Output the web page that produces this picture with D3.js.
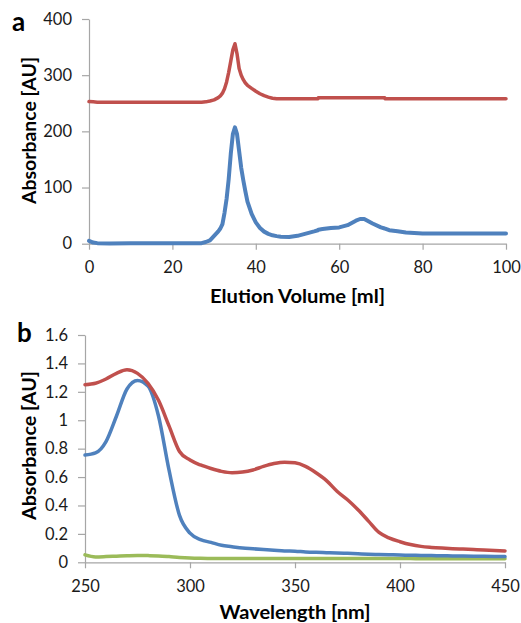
<!DOCTYPE html>
<html><head><meta charset="utf-8">
<script src="https://cdn.jsdelivr.net/npm/d3@7"></script>
<style>
html,body{margin:0;padding:0;background:#fff;}
svg{display:block;font-family:Lato,"Open Sans",sans-serif;}
</style></head>
<body>
<svg id="chart" width="521" height="623"></svg>
<script>
// ---------- Panel a data: elution profile ----------
const elutionVolume = [0,1,2,5,10,20,27,28,29,30,31,31.5,32,32.5,33,33.5,34,34.5,35,35.5,36,36.5,37,37.5,38,39,40,41,42,43,44,45,46,48,50,52,54,54.9,55,56,58,60,62,64,65,66,68,70,70.9,71,72,74,76,78,80,90,100];
const elutionRed  = [253,252.5,252,252,252,252,252,252.5,254,256,260,263,268,276,288,305,325,345,356,338,312,300,292,286,282,276.5,271.5,267,263.5,261,259,258,258,258,258,258,258,258,260,260,260,260,260,260,260,260,260,260,260,258,258,258,258,258,258,258,258];
const elutionBlue = [5,2,1,0.5,1,1,1,3,6,14,22,27,35,55,80,115,160,195,207,195,165,135,113,93,75,53,38,28,21.5,17.5,15,13.5,12.5,12,14,18,22,24,25,26,28,29,33,41,44,44,36,29,27,27,24,22,20,19,18,18,18];
const yTicksA = [0,100,200,300,400];
const xTicksA = [0,20,40,60,80,100];

// ---------- Panel b data: absorbance spectra ----------
const wavelength = [250,255,260,265,270,275,280,285,290,295,300,305,310,315,320,325,330,335,340,345,350,355,360,365,370,375,380,385,390,395,400,405,410,415,420,425,430,435,440,445,450];
const spectrumRed   = [1.25,1.26,1.29,1.33,1.355,1.33,1.26,1.14,0.96,0.78,0.72,0.685,0.66,0.64,0.63,0.635,0.65,0.675,0.695,0.705,0.70,0.675,0.63,0.575,0.50,0.44,0.37,0.29,0.21,0.17,0.145,0.125,0.112,0.105,0.10,0.096,0.093,0.09,0.087,0.083,0.08];
const spectrumBlue  = [0.755,0.77,0.85,1.03,1.22,1.28,1.24,1.03,0.65,0.33,0.205,0.16,0.14,0.12,0.11,0.10,0.095,0.09,0.085,0.08,0.078,0.073,0.07,0.068,0.066,0.063,0.06,0.057,0.055,0.053,0.051,0.05,0.048,0.047,0.046,0.045,0.044,0.043,0.042,0.041,0.04];
const spectrumGreen = [0.052,0.038,0.04,0.043,0.046,0.048,0.047,0.045,0.04,0.034,0.03,0.028,0.027,0.026,0.026,0.026,0.026,0.026,0.026,0.026,0.026,0.026,0.026,0.026,0.026,0.026,0.026,0.026,0.026,0.026,0.026,0.026,0.025,0.025,0.025,0.025,0.025,0.025,0.025,0.025,0.025];
const yTicksB = [0,0.2,0.4,0.6,0.8,1,1.2,1.4,1.6];
const xTicksB = [250,300,350,400,450];

const RED = "#C0504D", BLUE = "#4F81BD", GREEN = "#9BBB59";
const AXIS = "#A6A6A6", TEXT = "#1a1a1a";

const svg = d3.select("#chart");

function panel(opt){
  const x = d3.scaleLinear().domain(opt.xDomain).range(opt.xRange);
  const y = d3.scaleLinear().domain(opt.yDomain).range(opt.yRange);
  const g = svg.append("g");
  const ya = g.append("g").attr("transform",`translate(${opt.xRange[0]},0)`)
    .call(d3.axisLeft(y).tickValues(opt.yTicks).tickSize(7).tickSizeOuter(0).tickPadding(10).tickFormat(opt.yFmt));
  const xa = g.append("g").attr("transform",`translate(0,${opt.yRange[0]})`)
    .call(d3.axisBottom(x).tickValues(opt.xTicks).tickSize(6).tickSizeOuter(0).tickPadding(12).tickFormat(d3.format("d")));
  [ya,xa].forEach(a=>{
    a.selectAll("path,line").attr("stroke",AXIS).attr("stroke-width",1.2);
    a.selectAll("text").attr("fill",TEXT).style("font-size","16.5px").style("font-family","Lato, 'Open Sans', sans-serif");
  });
  const line = d3.line().x(d=>x(d[0])).y(d=>y(d[1])).curve(opt.curve);
  opt.series.forEach(s=>{
    g.append("path").datum(opt.xs.map((v,i)=>[v,s.values[i]]))
      .attr("fill","none").attr("stroke",s.color).attr("stroke-width",s.width)
      .attr("stroke-linejoin","round").attr("stroke-linecap","round").attr("d",line);
  });
  g.append("text").attr("x",(opt.xRange[0]+opt.xRange[1])/2).attr("y",opt.xTitleY)
    .attr("text-anchor","middle").attr("fill","#000").style("font-size","19px").style("font-weight","bold")
    .attr("textLength",opt.xTitleLen).attr("lengthAdjust","spacingAndGlyphs").text(opt.xTitle);
  g.append("text").attr("transform",`translate(${opt.yTitleX},${opt.yTitleC}) rotate(-90)`)
    .attr("text-anchor","middle").attr("fill","#000").style("font-size","19px").style("font-weight","bold")
    .attr("textLength",opt.yTitleLen).attr("lengthAdjust","spacingAndGlyphs").text("Absorbance [AU]");
  g.append("text").attr("x",opt.labelX).attr("y",opt.labelY).attr("fill","#000")
    .style("font-size","26px").style("font-weight","bold").text(opt.label);
}

panel({
  xDomain:[0,100], xRange:[89,506], yDomain:[0,400], yRange:[243.7,19],
  xTicks:xTicksA, yTicks:yTicksA, yFmt:d3.format("d"),
  xs:elutionVolume, curve:d3.curveLinear,
  series:[{values:elutionRed,color:RED,width:3.5},{values:elutionBlue,color:BLUE,width:4}],
  xTitle:"Elution Volume [ml]", xTitleY:303, xTitleLen:175, yTitleX:36, yTitleC:130.5, yTitleLen:147,
  label:"a", labelX:12, labelY:31
});
panel({
  xDomain:[250,450], xRange:[85,505], yDomain:[0,1.6], yRange:[562.3,335],
  xTicks:xTicksB, yTicks:yTicksB, yFmt:d=>String(+d.toFixed(1)),
  xs:wavelength, curve:d3.curveMonotoneX,
  series:[{values:spectrumGreen,color:GREEN,width:3.5},{values:spectrumBlue,color:BLUE,width:3.5},{values:spectrumRed,color:RED,width:3.5}],
  xTitle:"Wavelength [nm]", xTitleY:619, xTitleLen:151, yTitleX:36, yTitleC:445.5, yTitleLen:149,
  label:"b", labelX:17, labelY:342
});
</script>
</body></html>
